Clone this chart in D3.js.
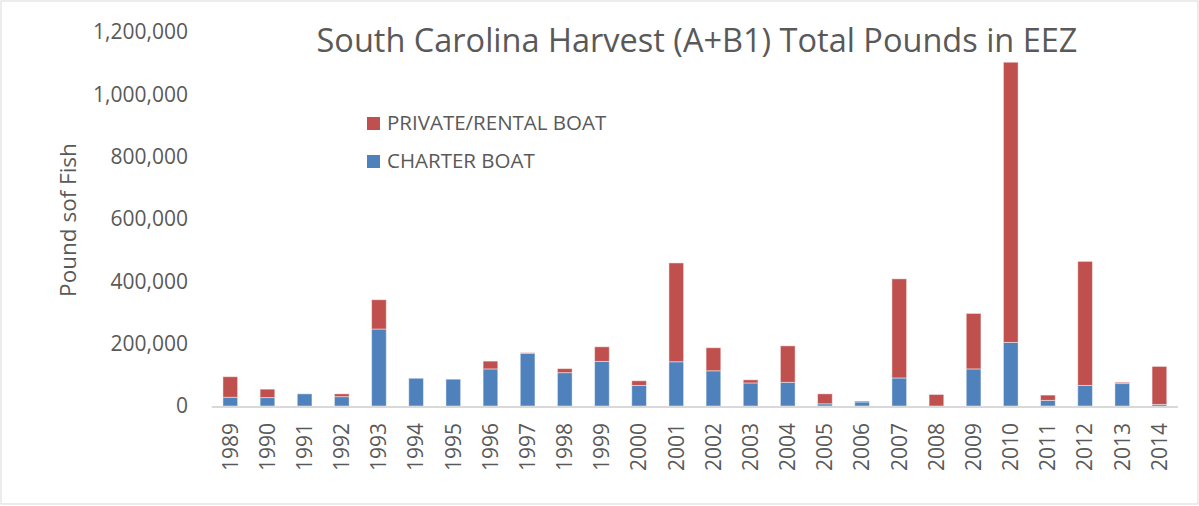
<!DOCTYPE html>
<html><head><meta charset="utf-8">
<script src="https://cdn.jsdelivr.net/npm/d3@7"></script>
<style>body{margin:0;background:#fff}svg{display:block}text{font-family:"Open Sans",sans-serif;fill:#595959}</style>
</head><body><svg id="c" width="1199" height="506"></svg>
<script>
const years = ["1989","1990","1991","1992","1993","1994","1995","1996","1997","1998","1999","2000","2001","2002","2003","2004","2005","2006","2007","2008","2009","2010","2011","2012","2013","2014"];
const charterBoat = [28000,27000,39000,30000,247000,89000,86000,119000,169000,107000,143000,66000,142000,113000,74000,76000,7000,13000,90000,0,119000,204000,18000,66000,72000,5000];
const privateBoat = [66000,27000,0,9000,94000,0,0,25000,2000,13000,47000,15000,317000,74000,10000,117000,32000,3000,318000,37000,178000,899000,17000,398000,4000,122000];
const yTicks = [0,200000,400000,600000,800000,1000000,1200000];
const seriesNames = ["CHARTER BOAT","PRIVATE/RENTAL BOAT"];
const colors = {"CHARTER BOAT":"#4F81BD","PRIVATE/RENTAL BOAT":"#C0504D"};

const svg = d3.select("#c");
svg.append("rect").attr("x",1).attr("y",1).attr("width",1197).attr("height",503).attr("fill","#fff").attr("stroke","#D9D9D9");

const x = d3.scaleBand().domain(years).range([211.7,1178]).paddingInner(0.605).paddingOuter(0.3025);
const y = d3.scaleLinear().domain([0,1200000]).range([406,32]);

const rows = years.map((yr,i)=>({year:yr,"CHARTER BOAT":charterBoat[i],"PRIVATE/RENTAL BOAT":privateBoat[i]}));
const stack = d3.stack().keys(seriesNames)(rows);

svg.append("g").selectAll("g").data(stack).join("g").attr("fill",d=>colors[d.key])
  .selectAll("rect").data(d=>d).join("rect")
  .attr("x",d=>x(d.data.year)).attr("width",x.bandwidth())
  .attr("y",d=>y(d[1])).attr("height",d=>Math.max(0,y(d[0])-y(d[1])))
  .attr("stroke","rgba(255,255,255,0.45)").attr("stroke-width",1);

// x axis
const xa = svg.append("g").attr("transform","translate(0,406)").call(d3.axisBottom(x).tickSize(0).tickPadding(0));
xa.select(".domain").attr("stroke","#D9D9D9").attr("stroke-width",2).attr("d","M211.7,1H1178");
xa.selectAll("text").attr("transform","translate(0,17) rotate(-90)").attr("text-anchor","end").attr("dx",0).attr("dy","0.35em").attr("x",0).attr("y",0)
  .style("font-size","21px").style("fill","#595959");

// y axis
const ya = svg.append("g").attr("transform","translate(188,0)").call(d3.axisLeft(y).tickValues(yTicks).tickFormat(d3.format(",")).tickSize(0).tickPadding(0));
ya.select(".domain").remove();
ya.selectAll("text").style("font-size","21px").style("fill","#595959").attr("text-anchor","end");

// y title
svg.append("text").attr("transform","translate(76,220) rotate(-90)").attr("text-anchor","middle")
  .style("font-size","22.5px").text("Pound sof Fish");

// title
svg.append("text").attr("x",697).attr("y",52).attr("text-anchor","middle").style("font-size","32.5px").text("South Carolina Harvest (A+B1) Total Pounds in EEZ");

// legend
const legendOrder = ["PRIVATE/RENTAL BOAT","CHARTER BOAT"];
const lg = svg.append("g");
legendOrder.forEach((k,i)=>{
  const yy = 117 + i*38;
  lg.append("rect").attr("x",367).attr("y",yy).attr("width",13).attr("height",13).attr("fill",colors[k]);
  lg.append("text").attr("x",387).attr("y",yy+13).style("font-size","20.5px").text(k);
});
</script></body></html>
